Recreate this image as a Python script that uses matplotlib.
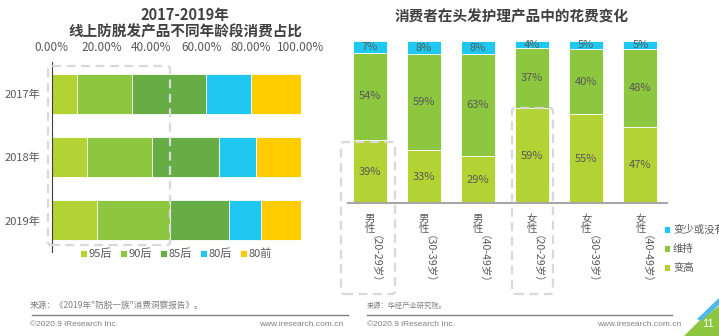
import numpy as np
import matplotlib
matplotlib.use("Agg")
import matplotlib.pyplot as plt
from matplotlib.patches import FancyBboxPatch, Polygon
from matplotlib.transforms import IdentityTransform

plt.rcParams['font.family'] = ['Noto Sans CJK SC', 'DejaVu Sans']

# left chart: share of spend by age group (%)
years = ['2017年', '2018年', '2019年']
groups = ['95后', '90后', '85后', '80后', '80前']
share = {
    '95后': [10.0, 14.0, 18.0],
    '90后': [22.1, 26.1, 29.5],
    '85后': [29.8, 26.9, 23.6],
    '80后': [18.0, 15.0, 12.9],
    '80前': [20.1, 18.0, 16.0],
}
group_colors = ['#B3D234', '#8DC63F', '#66AD45', '#1FC8F1', '#FFCC00']

# right chart: change of hair care spending (%)
people = ['男\n性', '男\n性', '男\n性', '女\n性', '女\n性', '女\n性']
ages = ['（20-29岁）', '（30-39岁）', '（40-49岁）', '（20-29岁）', '（30-39岁）', '（40-49岁）']
higher = [39, 33, 29, 59, 55, 47]
same = [54, 59, 63, 37, 40, 48]
lower = [7, 8, 8, 4, 5, 5]

W, H = 719, 336
fig = plt.figure(figsize=(W / 100, H / 100), dpi=100)
txt = '#595959'


def fbox(x0, y0, x1, y1):
    # pixel box (top-left origin) -> figure fraction rect
    return [x0 / W, 1 - y1 / H, (x1 - x0) / W, (y1 - y0) / H]


def dashed_box(x0, y0, x1, y1):
    p = FancyBboxPatch((x0, H - y1), x1 - x0, y1 - y0,
                       boxstyle='round,pad=0,rounding_size=3',
                       transform=IdentityTransform(), fill=False,
                       edgecolor='#D9D9D9', linewidth=1.6,
                       linestyle=(0, (4, 2.5)), zorder=10)
    fig.add_artist(p)


# ---------- left chart ----------
ax1 = fig.add_axes(fbox(51.7, 62, 301, 252))
y = np.arange(len(years))
left = np.zeros(len(years))
handles = []
for g, c in zip(groups, group_colors):
    vals = np.array(share[g])
    b = ax1.barh(y, vals, left=left, height=0.633, color=c,
                 edgecolor='white', linewidth=0.6, label=g)
    handles.append(b)
    left += vals
ax1.set_xlim(0, 100)
ax1.set_ylim(2.5, -0.5)
ax1.xaxis.tick_top()
ax1.set_xticks(np.arange(0, 101, 20))
ax1.set_xticklabels([f'{v:.2f}%' for v in np.arange(0, 101, 20)])
ax1.tick_params(axis='x', length=0, pad=6, labelsize=8.5, labelcolor=txt)
ax1.set_yticks(y)
ax1.set_yticklabels(years)
ax1.tick_params(axis='y', length=0, pad=8, labelsize=8, labelcolor=txt)
for s in ['top', 'right', 'bottom']:
    ax1.spines[s].set_visible(False)
ax1.spines['left'].set_color('#404040')
ax1.spines['left'].set_linewidth(0.8)
fig.legend(handles=handles, labels=groups, loc='center',
           bbox_to_anchor=(176 / W, 1 - 254 / H), ncol=5, frameon=False,
           fontsize=8, handlelength=0.6, handleheight=0.6,
           handletextpad=0.15, columnspacing=0.75, labelcolor=txt,
           borderpad=0)
dashed_box(48, 66, 170, 245)

fig.text(185 / W, 1 - 15 / H, '2017-2019年', ha='center', va='center',
         fontsize=10.5, fontweight='bold', color='#404040')
fig.text(185 / W, 1 - 31 / H, '线上防脱发产品不同年龄段消费占比', ha='center',
         va='center', fontsize=10.5, fontweight='bold', color='#404040')

# ---------- right chart ----------
ax2 = fig.add_axes(fbox(348, 41.3, 667, 203.3))
x = np.arange(len(people))
bw = 0.627
b1 = ax2.bar(x, higher, width=bw, color='#B3D234', edgecolor='white',
             linewidth=0.6, label='变高')
b2 = ax2.bar(x, same, width=bw, bottom=higher, color='#8DC63F',
             edgecolor='white', linewidth=0.6, label='维持')
bottom2 = np.array(higher) + np.array(same)
b3 = ax2.bar(x, lower, width=bw, bottom=bottom2, color='#1FC8F1',
             edgecolor='white', linewidth=0.6, label='变少或没有')
for i in x:
    ax2.text(i, higher[i] / 2, f'{higher[i]}%', ha='center', va='center',
             fontsize=8, color=txt)
    ax2.text(i, higher[i] + same[i] / 2, f'{same[i]}%', ha='center',
             va='center', fontsize=8, color=txt)
    ax2.text(i, bottom2[i] + lower[i] / 2, f'{lower[i]}%', ha='center',
             va='center', fontsize=8, color=txt)
ax2.set_xlim(-0.4, 5.49)
ax2.set_ylim(0, 100)
ax2.set_xticks([])
ax2.set_yticks([])
for s in ['top', 'right', 'left']:
    ax2.spines[s].set_visible(False)
ax2.spines['bottom'].set_color('#A6A6A6')
ax2.spines['bottom'].set_linewidth(1.5)

tr = ax2.get_xaxis_transform()
for i in x:
    ax2.text(i, (203.3 - 224) / 162, people[i], transform=tr, ha='center',
             va='center', fontsize=7.5, color=txt, linespacing=0.95)
    ax2.text(i, (203.3 - 264) / 162, ages[i], transform=tr, ha='center',
             va='center', fontsize=7.6, color=txt, rotation=270)

ax2.legend(handles=[b3, b2, b1], labels=['变少或没有', '维持', '变高'],
           loc='upper left', bbox_to_anchor=(659 / W, 1 - 220 / H),
           bbox_transform=fig.transFigure, frameon=False, fontsize=7.5,
           handlelength=0.6, handleheight=0.6, handletextpad=0.25,
           labelspacing=0.85, labelcolor=txt, borderpad=0)

dashed_box(341, 142, 395, 294)
dashed_box(512, 108, 553, 294)

fig.text(511.7 / W, 1 - 16.7 / H, '消费者在头发护理产品中的花费变化',
         ha='center', va='center', fontsize=10.5, fontweight='bold',
         color='#404040')

# ---------- footer ----------
foot = '#7F7F7F'
fig.text(30 / W, 1 - 305 / H, '来源：《2019年"防脱一族"消费洞察报告》。',
         ha='left', va='center', fontsize=6.2, color=foot)
fig.text(367 / W, 1 - 306 / H, '来源：华经产业研究院。',
         ha='left', va='center', fontsize=5.2, color=foot)
for xa, xb in [(32, 348), (367, 672)]:
    fig.add_artist(plt.Line2D([xa / W, xb / W], [1 - 315 / H, 1 - 315 / H],
                              color='#808080', linewidth=1))
for xa, xb in [(30, 343), (367, 681)]:
    fig.text(xa / W, 1 - 324.5 / H, '©2020.9 iResearch Inc.', ha='left',
             va='center', fontsize=6, color=foot, family='Liberation Sans')
    fig.text(xb / W, 1 - 324.5 / H, 'www.iresearch.com.cn', ha='right',
             va='center', fontsize=6, color=foot, family='Liberation Sans')

# corner decoration with page number
green = Polygon([(684, 0), (719, 0), (719, H - 306), (700, H - 320)],
                closed=True, transform=IdentityTransform(),
                facecolor='#8DC63F', edgecolor='none')
blue = Polygon([(697, H - 319), (719, H - 298), (719, H - 305), (701, H - 321)],
               closed=True, transform=IdentityTransform(),
               facecolor='#4FB8E8', edgecolor='none')
fig.add_artist(green)
fig.add_artist(blue)
fig.text(708 / W, 1 - 324 / H, '11', ha='center', va='center',
         fontsize=8, color='white', family='Liberation Sans')

fig.savefig('out.png', dpi=100)
